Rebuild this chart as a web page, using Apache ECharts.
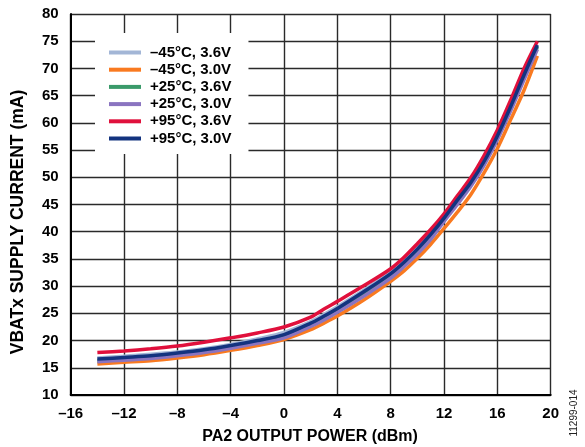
<!DOCTYPE html>
<html>
<head>
<meta charset="utf-8">
<script src="https://cdn.jsdelivr.net/npm/echarts@6/dist/echarts.min.js"></script>
<style>
html,body{margin:0;padding:0;background:#fff;}
#c{width:585px;height:447px;}
</style>
</head>
<body>
<div id="c"></div>
<script>
// PA2 output power (dBm)
const powerDbm = [-14, -12, -10, -8, -6, -4, -2, 0, 2, 3, 4, 6, 8, 9, 10, 11, 12, 13, 14, 15, 16, 17, 18, 19];
// Supply current (mA) per condition
const m45_36 = [16.8, 17.1, 17.5, 17.9, 18.5, 19.3, 20.3, 21.5, 23.5, 24.8, 26.2, 29.3, 32.6, 34.7, 37.1, 39.7, 42.6, 45.9, 49.1, 53.1, 57.9, 63.3, 69.0, 73.8];
const m45_30 = [15.7, 16.0, 16.3, 16.8, 17.4, 18.2, 19.1, 20.2, 22.0, 23.2, 24.5, 27.5, 30.9, 32.8, 35.1, 37.7, 40.6, 43.6, 46.8, 50.8, 55.3, 60.6, 66.0, 72.3];
const p25_36 = [16.3, 16.6, 16.9, 17.4, 18.0, 18.8, 19.7, 20.8, 22.9, 24.2, 25.6, 28.6, 31.9, 34.0, 36.4, 39.1, 42.2, 45.4, 48.6, 52.5, 57.2, 62.6, 68.3, 74.0];
const p25_30 = [16.1, 16.4, 16.7, 17.2, 17.8, 18.6, 19.5, 20.5, 22.6, 23.8, 25.2, 28.2, 31.5, 33.6, 35.9, 38.6, 41.9, 45.0, 48.3, 52.2, 56.9, 62.2, 67.9, 73.5];
const p95_36 = [17.8, 18.1, 18.5, 19.0, 19.7, 20.5, 21.4, 22.5, 24.3, 25.8, 27.2, 30.1, 33.2, 35.3, 37.8, 40.4, 43.3, 46.6, 49.9, 54.0, 58.7, 64.2, 70.0, 75.0];
const p95_30 = [16.6, 16.9, 17.2, 17.7, 18.3, 19.1, 20.0, 21.1, 23.2, 24.5, 25.9, 29.0, 32.3, 34.4, 36.8, 39.5, 42.5, 45.8, 49.0, 52.9, 57.6, 63.0, 68.8, 74.3];
const seriesNames = ['\u201345\u00b0C, 3.6V', '\u201345\u00b0C, 3.0V', '+25\u00b0C, 3.6V', '+25\u00b0C, 3.0V', '+95\u00b0C, 3.6V', '+95\u00b0C, 3.0V'];
const seriesData = [m45_36, m45_30, p25_36, p25_30, p95_36, p95_30];
const seriesColors = ['#a3b6d6', '#f97a20', '#3a9a6a', '#8a74c0', '#e0103c', '#13337f'];
// Axis ticks
const xMin = -16, xMax = 20, xStep = 4;
const yMin = 10, yMax = 80, yStep = 5;

const FONT = 'Liberation Sans, Arial, sans-serif';
const chart = echarts.init(document.getElementById('c'), null, {renderer: 'canvas'});

const series = seriesNames.map((n, i) => ({
  name: n,
  type: 'line',
  data: powerDbm.map((x, j) => [x, seriesData[i][j]]),
  symbol: 'none',
  smooth: 0.3,
  lineStyle: {color: seriesColors[i], width: 3.5},
  itemStyle: {color: seriesColors[i]},
  z: 3 + i
}));

chart.setOption({
  animation: false,
  backgroundColor: '#fff',
  grid: {left: 70.7, right: 34.3, top: 14, bottom: 52, containLabel: false},
  xAxis: {
    type: 'value', min: xMin, max: xMax, interval: xStep,
    axisLine: {show: true, onZero: false, lineStyle: {color: '#000', width: 2}},
    axisTick: {show: false},
    splitLine: {show: true, lineStyle: {color: '#2a2a2a', width: 1.4}},
    axisLabel: {
      color: '#000', fontFamily: FONT, fontWeight: 'bold', fontSize: 15, margin: 11,
      formatter: v => (v < 0 ? '\u2013' + Math.abs(v) : String(v))
    }
  },
  yAxis: {
    type: 'value', min: yMin, max: yMax, interval: yStep,
    axisLine: {show: true, onZero: false, lineStyle: {color: '#000', width: 2}},
    axisTick: {show: false},
    splitLine: {show: true, lineStyle: {color: '#2a2a2a', width: 1.4}},
    axisLabel: {color: '#000', fontFamily: FONT, fontWeight: 'bold', fontSize: 15, margin: 12}
  },
  legend: {
    orient: 'vertical',
    left: 95, top: 33,
    padding: [12, 17, 8, 14],
    backgroundColor: '#fff',
    icon: 'rect',
    itemWidth: 32, itemHeight: 4, itemGap: 2.2,
    data: seriesNames,
    textStyle: {color: '#000', fontFamily: FONT, fontWeight: 'bold', fontSize: 15, lineHeight: 15, padding: [0, 0, 0, 4]}
  },
  graphic: [
    {
      type: 'text', x: 18, y: 222, rotation: Math.PI / 2,
      style: {text: 'VBATx SUPPLY CURRENT (mA)', fill: '#000', font: 'bold 17.5px ' + FONT, align: 'center', verticalAlign: 'middle'}
    },
    {
      type: 'text', x: 310, y: 437,
      style: {text: 'PA2 OUTPUT POWER (dBm)', fill: '#000', font: 'bold 16px ' + FONT, align: 'center', verticalAlign: 'middle'}
    },
    {
      type: 'text', x: 574, y: 413, rotation: Math.PI / 2,
      style: {text: '11299-014', fill: '#222', font: '10px ' + FONT, align: 'center', verticalAlign: 'middle'}
    }
  ],
  series: series
});
</script>
</body>
</html>
